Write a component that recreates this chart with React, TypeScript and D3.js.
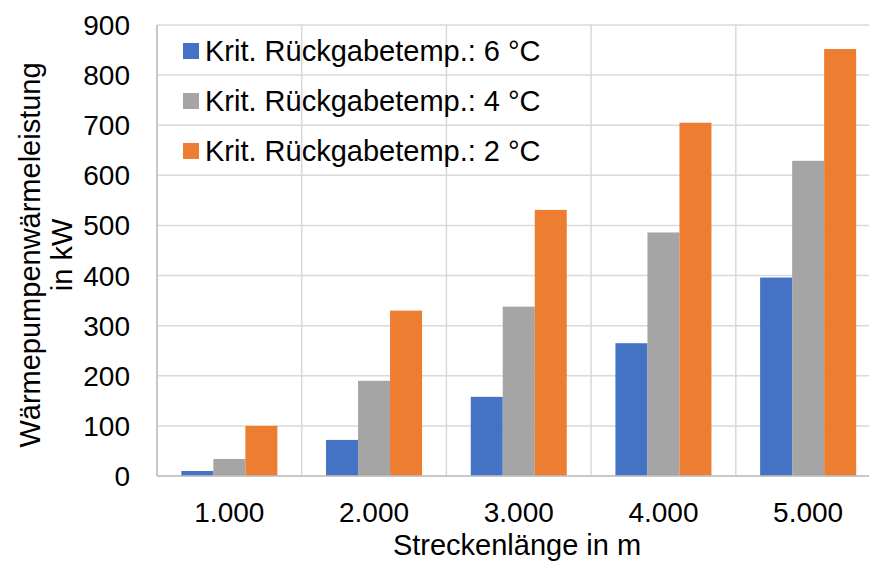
import React from "react";
import * as d3 from "d3";

const categories = ["1.000", "2.000", "3.000", "4.000", "5.000"];
const seriesNames = [
  "Krit. Rückgabetemp.: 6 °C",
  "Krit. Rückgabetemp.: 4 °C",
  "Krit. Rückgabetemp.: 2 °C",
];
const values6 = [10, 72, 158, 265, 396];
const values4 = [34, 190, 338, 486, 629];
const values2 = [100, 330, 531, 705, 852];
const seriesColors = ["#4472C4", "#A5A5A5", "#ED7D31"];
const yTicks = [0, 100, 200, 300, 400, 500, 600, 700, 800, 900];
const xTitle = "Streckenlänge in m";
const yTitle1 = "Wärmepumpenwärmeleistung";
const yTitle2 = "in kW";

const W = 869;
const H = 561;
const FONT = "'Liberation Sans', Arial, sans-serif";

export default function App() {
  const left = 157;
  const right = 880.5;
  const top = 25;
  const bottom = 476;
  const seriesData = [values6, values4, values2];

  const x0 = d3.scaleBand<string>().domain(categories).range([left, right]).padding(0);
  const x1 = d3
    .scaleBand<number>()
    .domain([0, 1, 2])
    .range([0, x0.bandwidth()])
    .paddingInner(0)
    .paddingOuter(0.76);
  const y = d3.scaleLinear().domain([0, 900]).range([bottom, top]);

  const boundaries = categories.map((c) => x0(c)!).concat([right]);

  return (
    <svg
      width={W}
      height={H}
      style={{ position: "absolute", left: 0, top: 0, background: "#fff" }}
      fontFamily={FONT}
    >
      <rect x={0} y={0} width={W} height={H} fill="#fff" />
      {yTicks.map((t) => (
        <line key={"h" + t} x1={left} x2={right} y1={y(t)} y2={y(t)} stroke="#D9D9D9" strokeWidth={1.5} />
      ))}
      {boundaries.map((b, i) => (
        <line key={"v" + i} x1={b} x2={b} y1={top} y2={bottom} stroke="#D9D9D9" strokeWidth={1.5} />
      ))}
      {categories.map((c, ci) => (
        <g key={c} transform={`translate(${x0(c)},0)`}>
          {seriesData.map((s, si) => (
            <rect
              key={si}
              x={x1(si)!}
              y={y(s[ci])}
              width={x1.bandwidth()}
              height={y(0) - y(s[ci])}
              fill={seriesColors[si]}
            />
          ))}
        </g>
      ))}
      <line x1={left} x2={left} y1={top} y2={bottom} stroke="#BFBFBF" strokeWidth={1.5} />
      <line x1={left} x2={right} y1={bottom} y2={bottom} stroke="#BFBFBF" strokeWidth={1.5} />
      {yTicks.map((t) => (
        <text key={"yt" + t} x={130} y={y(t) + 10} textAnchor="end" fontSize={28} fill="#000">
          {t}
        </text>
      ))}
      {categories.map((c) => (
        <text key={"xt" + c} x={x0(c)! + x0.bandwidth() / 2} y={522} textAnchor="middle" fontSize={28} fill="#000">
          {c}
        </text>
      ))}
      <text x={517} y={555} textAnchor="middle" fontSize={29} fill="#000">
        {xTitle}
      </text>
      <g transform="translate(0,255) rotate(-90)">
        <text x={0} y={40} textAnchor="middle" fontSize={29} fill="#000">
          {yTitle1}
        </text>
        <text x={0} y={72} textAnchor="middle" fontSize={29} fill="#000">
          {yTitle2}
        </text>
      </g>
      {seriesNames.map((n, i) => (
        <g key={n} transform={`translate(183,${51 + i * 50})`}>
          <rect x={0} y={-8} width={16} height={16} fill={seriesColors[i]} />
          <text x={22} y={9.5} fontSize={29} fill="#000">
            {n}
          </text>
        </g>
      ))}
    </svg>
  );
}
